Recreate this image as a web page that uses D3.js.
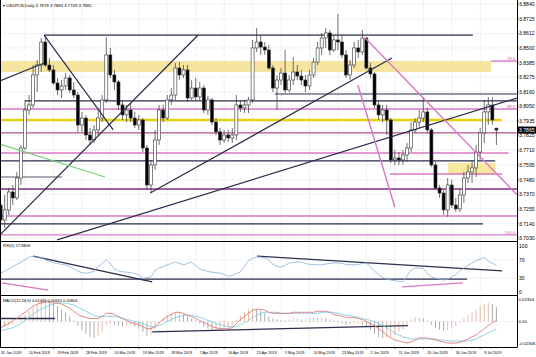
<!DOCTYPE html>
<html><head><meta charset="utf-8">
<script src="https://cdn.jsdelivr.net/npm/d3@7"></script>
<style>body{margin:0;background:#fff}svg{display:block;font-family:"Liberation Sans",Arial,sans-serif}</style>
</head><body><svg id="c" width="536" height="357"></svg>
<script>
// ---------- DATA ----------
const symbolTitle = "USDPLN,Daily  3.7879 3.7884 3.7749 3.7865";
const rsiTitle = "RSI(5) 57.8808";
const macdTitle = "MACD(12,26,9) 0.01469 0.00665 0.00804";

const opens = [3.7285,3.7169,3.7247,3.7386,3.7340,3.7494,3.7726,3.8020,3.8059,3.8291,
3.8368,3.8546,3.8368,3.8330,3.8229,3.8175,3.8206,3.8268,3.8175,3.8136,
3.7904,3.7958,3.7827,3.7788,3.7866,3.7958,3.8098,3.8446,3.8291,3.8237,
3.8059,3.7982,3.8020,3.7958,3.7904,3.7943,3.7726,3.7440,3.7595,3.7788,
3.8020,3.7958,3.8098,3.8136,3.8345,3.8291,3.8330,3.8113,3.8190,3.8121,
3.8190,3.8020,3.8098,3.7927,3.7851,3.7788,3.7827,3.7804,3.7827,3.8059,
3.8036,3.8059,3.8098,3.8500,3.8546,3.8507,3.8484,3.8345,3.8190,3.8252,
3.8306,3.8175,3.8252,3.8314,3.8283,3.8252,3.8206,3.8291,3.8391,3.8500,
3.8577,3.8616,3.8484,3.8562,3.8546,3.8446,3.8291,3.8368,3.8500,3.8469,
3.8577,3.8345,3.8299,3.8059,3.7982,3.8020,3.7943,3.7634,3.7649,3.7634,
3.7672,3.7726,3.7866,3.7927,3.7958,3.8005,3.7866,3.7595,3.7417,3.7378,
3.7247,3.7440,3.7285,3.7255,3.7363,3.7494,3.7541,3.7572,3.7695,3.7843,
3.8005,3.8059,3.7879];
const highs = [3.7324,3.7363,3.7417,3.7440,3.7541,3.7750,3.8098,3.8136,3.8368,3.8407,
3.8577,3.8600,3.8422,3.8368,3.8268,3.8252,3.8306,3.8291,3.8237,3.8159,
3.8005,3.7982,3.7881,3.7904,3.8020,3.8136,3.8585,3.8500,3.8330,3.8252,
3.8098,3.8059,3.8075,3.8005,3.7982,3.7958,3.7750,3.7634,3.7866,3.8059,
3.8059,3.8136,3.8190,3.8384,3.8391,3.8368,3.8368,3.8252,3.8268,3.8237,
3.8214,3.8129,3.8113,3.7958,3.7881,3.7866,3.7866,3.7881,3.8136,3.8098,
3.8098,3.8121,3.8562,3.8654,3.8600,3.8546,3.8523,3.8368,3.8291,3.8345,
3.8484,3.8291,3.8430,3.8368,3.8330,3.8291,3.8330,3.8422,3.8546,3.8616,
3.8654,3.8639,3.8600,3.8763,3.8600,3.8484,3.8407,3.8546,3.8562,3.8639,
3.8585,3.8384,3.8314,3.8098,3.8059,3.8059,3.7958,3.7711,3.7695,3.7711,
3.7765,3.7927,3.7958,3.8020,3.8121,3.8036,3.7881,3.7618,3.7440,3.7402,
3.7494,3.7479,3.7340,3.7402,3.7541,3.7595,3.7634,3.7750,3.7881,3.8098,
3.8121,3.8121,3.7884];
const lows = [3.7131,3.7108,3.7208,3.7285,3.7324,3.7440,3.7711,3.7982,3.8036,3.8159,
3.8314,3.8353,3.8314,3.8214,3.8136,3.8113,3.8175,3.8152,3.8113,3.7851,
3.7851,3.7788,3.7750,3.7765,3.7827,3.7927,3.8075,3.8268,3.8175,3.8020,
3.7943,3.7927,3.7927,3.7881,3.7866,3.7695,3.7402,3.7378,3.7556,3.7750,
3.7927,3.7943,3.8059,3.8098,3.8252,3.8268,3.8082,3.8098,3.8098,3.8098,
3.7997,3.7982,3.7904,3.7827,3.7750,3.7765,3.7773,3.7765,3.7788,3.8005,
3.7997,3.7997,3.8075,3.8469,3.8446,3.8446,3.8330,3.8159,3.8020,3.8214,
3.8152,3.8159,3.8214,3.8252,3.8214,3.8159,3.8175,3.8268,3.8368,3.8446,
3.8500,3.8446,3.8469,3.8484,3.8422,3.8268,3.8252,3.8345,3.8422,3.8446,
3.8330,3.8268,3.8036,3.7943,3.7927,3.7827,3.7610,3.7595,3.7595,3.7595,
3.7618,3.7695,3.7843,3.7881,3.7927,3.7843,3.7579,3.7402,3.7340,3.7208,
3.7193,3.7262,3.7231,3.7231,3.7301,3.7456,3.7456,3.7502,3.7634,3.7765,
3.7904,3.7904,3.7749];
const closes = [3.7169,3.7247,3.7386,3.7340,3.7494,3.7726,3.8020,3.8059,3.8291,3.8368,
3.8546,3.8368,3.8330,3.8229,3.8175,3.8206,3.8268,3.8175,3.8136,3.7904,
3.7958,3.7827,3.7788,3.7866,3.7958,3.8098,3.8446,3.8291,3.8237,3.8059,
3.7982,3.8020,3.7958,3.7904,3.7943,3.7726,3.7440,3.7595,3.7788,3.8020,
3.7958,3.8098,3.8136,3.8345,3.8291,3.8330,3.8113,3.8190,3.8121,3.8190,
3.8020,3.8098,3.7927,3.7851,3.7788,3.7827,3.7804,3.7827,3.8059,3.8036,
3.8059,3.8098,3.8500,3.8546,3.8507,3.8484,3.8345,3.8190,3.8252,3.8306,
3.8175,3.8252,3.8314,3.8283,3.8252,3.8206,3.8291,3.8391,3.8500,3.8577,
3.8616,3.8484,3.8562,3.8546,3.8446,3.8291,3.8368,3.8500,3.8469,3.8577,
3.8345,3.8299,3.8059,3.7982,3.8020,3.7943,3.7634,3.7649,3.7634,3.7672,
3.7726,3.7866,3.7927,3.7958,3.8005,3.7866,3.7595,3.7417,3.7378,3.7247,
3.7440,3.7285,3.7255,3.7363,3.7494,3.7541,3.7572,3.7695,3.7843,3.8005,
3.8059,3.7943,3.7865];

const rsiValues = [41,45,50,55,60,65,70,76,77,76,
75,70,67,64,62,60,59,55,50,45,
42,41,42,45,55,62,70,62,50,46,
44,43,42,40,37,30,31,33,47,52,
55,59,62,65,62,59,62,65,57,50,
47,45,43,42,41,38,34,36,40,44,
55,68,73,76,76,74,70,60,56,54,
58,63,64,65,65,62,60,60,59,59,
61,62,63,63,62,60,59,59,60,62,
63,55,45,38,32,28,26,25,23,22,
35,48,52,52,52,40,33,30,28,26,
28,33,38,46,52,58,63,68,72,75,
67,63,58];

// MACD values in pips (1 pip = 0.0001)
const macdMain = [-65,-43,-22,11,32,65,97,129,161,183,
194,204,204,194,194,183,161,140,108,75,
54,43,32,32,32,54,86,86,75,54,
32,11,-11,-22,-32,-54,-75,-75,-54,-11,
22,54,75,97,97,86,65,54,32,11,
-11,-32,-54,-65,-75,-75,-75,-65,-22,22,
54,86,118,129,129,118,97,86,86,86,
86,86,97,97,97,97,97,97,108,108,
108,97,75,65,54,43,43,43,32,22,
0,-22,-43,-75,-108,-140,-172,-194,-204,-215,
-226,-215,-194,-172,-172,-172,-183,-194,-204,-215,
-226,-226,-226,-215,-204,-183,-161,-140,-108,-75,
-43,-11,11];
const macdSignal = [-97,-86,-75,-65,-43,-22,11,43,75,108,
129,151,172,183,194,194,194,183,172,151,
129,108,86,65,54,54,54,54,54,43,
32,22,11,0,-11,-22,-43,-54,-54,-43,
-22,0,22,43,54,65,65,65,54,43,
32,11,0,-22,-32,-43,-54,-54,-54,-32,
-11,11,43,65,86,97,97,97,97,86,
86,86,86,86,86,86,86,86,86,97,
97,97,97,86,75,65,65,54,43,32,
22,11,0,-22,-43,-65,-97,-118,-140,-161,
-172,-183,-183,-183,-183,-183,-183,-183,-194,-194,
-204,-204,-204,-204,-204,-204,-194,-183,-161,-140,
-118,-97,-75];
const macdHist = [-43,-54,-43,-32,-11,22,65,108,151,183,
215,226,215,194,161,129,97,54,11,-43,
-86,-129,-161,-172,-151,-108,-32,-22,-32,-43,
-54,-43,-32,-54,-75,-108,-151,-140,-86,-22,
32,65,86,97,97,75,54,32,11,-22,
-54,-75,-97,-97,-86,-75,-65,-43,22,65,
97,129,140,129,118,86,54,32,22,22,
11,22,32,32,22,22,32,43,43,43,
32,22,11,-11,-22,-32,-32,-22,-22,-32,
-54,-86,-129,-161,-172,-172,-161,-140,-108,-86,
-43,22,43,43,32,11,-32,-65,-86,-97,
-86,-65,-43,-11,32,65,97,129,161,183,
194,183,151];

const priceTicks = [3.8840,3.8725,3.8612,3.8500,3.8385,3.8275,3.8160,3.8050,3.7935,3.7825,3.7710,3.7595,3.7480,3.7370,3.7255,3.7140,3.7030];
const rsiTicks = [100,70,30,0];
const macdTicks = [236.4,0,-230.6];
const macdTickLabels = ["0.02364","0.00","-0.02306"];
const dateLabels = ["31 Jan 2019","10 Feb 2019","19 Feb 2019","28 Feb 2019","10 Mar 2019","19 Mar 2019","28 Mar 2019","7 Apr 2019","16 Apr 2019","25 Apr 2019","5 May 2019","14 May 2019","23 May 2019","2 Jun 2019","11 Jun 2019","20 Jun 2019","30 Jun 2019","9 Jul 2019"];
const dateBarIndex = [0,7,14,21,28,35,42,49,56,63,70,77,84,91,98,105,112,119];

// horizontal levels: [price, fromBar, toBar, kind]
const levels = [
 [3.8600,11.7,117.2,"dark"],[3.8144,68.5,128,"dark"],[3.8090,7,128,"dark"],
 [3.8028,0,128,"pink"],[3.8399,121.7,128,"pink"],[3.7943,0,124.3,"yellow"],
 [3.7843,0,128,"mauve"],[3.7688,0,126,"pink"],[3.7626,0,122.7,"dark"],
 [3.7525,96.8,124.4,"pink"],[3.7502,0,16.1,"grey"],[3.7409,0,128,"purple"],
 [3.7200,0,128,"pink"],[3.7139,0,119.7,"dark"],[3.7054,0,128,"pink"]
];
// zones: [priceTop, priceBottom, fromBar, toBar]
const zones = [[3.8399,3.8314,0,121.7],[3.7610,3.7518,111.1,122.7]];
// trend lines: [bar1, price1, bar2, price2, kind]
const trends = [
 [11.7,3.8600,28.7,3.7866,"dark"],[0.85,3.8245,11.7,3.8384,"dark"],
 [0.85,3.7054,49.6,3.8600,"dark"],[37.8,3.7378,97.3,3.8422,"dark"],
 [14.9,3.7015,128.1,3.8113,"dark"],[90.7,3.8577,128.1,3.7363,"pink"],
 [88.9,3.8214,98.0,3.7270,"pink"],[0.85,3.7757,26.7,3.7502,"green"]
];
const fibLabels = [["78.6",3.8399],["38.2",3.8028],["100.0",3.7054]];
// RSI lines: [bar1, v1, bar2, v2, kind]
const rsiTrends = [[9.0,78,38.3,22,"dark"],[0,28,115.8,28,"dark"],[64.1,78,124.4,46,"dark"],[1.3,20,12.7,4,"pink"],[99.8,11,114.8,20,"pink"]];
// MACD lines (pips)
const macdTrends = [[0,32,14.4,32,"dark"],[38.3,-108,101.2,-43,"dark"]];

// ---------- DRAW ----------
const svg = d3.select("#c");
const PR = 517;
const x = d3.scaleLinear().domain([0,128]).range([-3.45,516.75]);
const yP = d3.scaleLinear().domain([3.7030,3.8840]).range([238,4]);
const yR = d3.scaleLinear().domain([0,100]).range([292,246]);
const yM = d3.scaleLinear().domain([-230.6,236.4]).range([343.5,299]);
const panes = [[0,241],[241,295],[295,347]];
const colors = {dark:"#2b2d4c",pink:"#d977c6",mauve:"#b0508f",purple:"#7e2f7e",grey:"#55586a",yellow:"#e6d210",green:"#74d374"};
const widths = {dark:1.2,pink:1.4,mauve:1.4,purple:1.4,grey:1.1,yellow:2.6,green:1.2};

const defs = svg.append("defs");
panes.forEach((p,k)=>defs.append("clipPath").attr("id","cp"+k).append("rect").attr("x",0).attr("y",p[0]).attr("width",PR).attr("height",p[1]-p[0]));

// grid
const grid = svg.append("g").attr("stroke","#c9c9c9").attr("stroke-width",0.6).attr("stroke-dasharray","1,1.5");
dateBarIndex.forEach(i=>grid.append("line").attr("x1",x(i)).attr("x2",x(i)).attr("y1",0).attr("y2",347));
priceTicks.forEach(t=>grid.append("line").attr("x1",0).attr("x2",PR).attr("y1",yP(t)).attr("y2",yP(t)));
[70,30].forEach(t=>grid.append("line").attr("x1",0).attr("x2",PR).attr("y1",yR(t)).attr("y2",yR(t)));
grid.append("line").attr("x1",0).attr("x2",PR).attr("y1",yM(0)).attr("y2",yM(0));

// main pane
const gm = svg.append("g").attr("clip-path","url(#cp0)");
zones.forEach((z,k)=>gm.append("rect").attr("x",x(z[2])).attr("width",x(z[3])-x(z[2]))
  .attr("y",yP(z[0])).attr("height",yP(z[1])-yP(z[0])).attr("fill",k===0?"#f6e49c":"#f7e69a").attr("opacity",0.95));
levels.forEach(l=>gm.append("line").attr("x1",x(l[1])).attr("x2",x(l[2])).attr("y1",yP(l[0])).attr("y2",yP(l[0]))
  .attr("stroke",colors[l[3]]).attr("stroke-width",widths[l[3]]));

const bars = d3.range(opens.length).map(k=>({i:k+1,o:opens[k],h:highs[k],l:lows[k],c:closes[k]}));
const cg = gm.append("g");
cg.selectAll("line.w").data(bars).join("line").attr("class","w")
  .attr("x1",d=>x(d.i)).attr("x2",d=>x(d.i)).attr("y1",d=>yP(d.h)).attr("y2",d=>yP(d.l))
  .attr("stroke","#333").attr("stroke-width",0.7);
cg.selectAll("rect.b").data(bars).join("rect").attr("class","b")
  .attr("x",d=>x(d.i)-1.5).attr("width",3)
  .attr("y",d=>yP(Math.max(d.o,d.c))).attr("height",d=>Math.max(0.8,Math.abs(yP(d.o)-yP(d.c))))
  .attr("fill",d=>d.c>=d.o?"#fff":"#000").attr("stroke","#333").attr("stroke-width",0.6);

trends.forEach(t=>gm.append("line").attr("x1",x(t[0])).attr("y1",yP(t[1])).attr("x2",x(t[2])).attr("y2",yP(t[3]))
  .attr("stroke",colors[t[4]]).attr("stroke-width",widths[t[4]]));

fibLabels.forEach(f=>svg.append("text").attr("x",515).attr("y",yP(f[1])-1).attr("text-anchor","end")
  .attr("font-size",4.2).attr("fill","#d060b0").text(f[0]));

svg.append("text").attr("x",3).attr("y",7).attr("font-size",4.3).attr("fill","#000").text("\u25BE "+symbolTitle);

// RSI pane
const gr = svg.append("g").attr("clip-path","url(#cp1)");
rsiTrends.forEach(t=>gr.append("line").attr("x1",x(t[0])).attr("y1",yR(t[1])).attr("x2",x(t[2])).attr("y2",yR(t[3]))
  .attr("stroke",colors[t[4]]).attr("stroke-width",1.3));
gr.append("path").datum(rsiValues).attr("fill","none").attr("stroke","#86b3dc").attr("stroke-width",0.8)
  .attr("d",d3.line().x((d,k)=>x(k+1)).y(d=>yR(d)));
svg.append("text").attr("x",3).attr("y",247).attr("font-size",4).text(rsiTitle);

// MACD pane
const gM = svg.append("g").attr("clip-path","url(#cp2)");
gM.selectAll("line.h").data(macdHist).join("line").attr("class","h")
  .attr("x1",(d,k)=>x(k+1)).attr("x2",(d,k)=>x(k+1)).attr("y1",yM(0)).attr("y2",d=>yM(d))
  .attr("stroke",(d,k)=>k>0&&d>=macdHist[k-1]?"#e0b49c":"#a0a0a0").attr("stroke-width",0.9);
macdTrends.forEach(t=>gM.append("line").attr("x1",x(t[0])).attr("y1",yM(t[1])).attr("x2",x(t[2])).attr("y2",yM(t[3]))
  .attr("stroke",colors[t[4]]).attr("stroke-width",1.3));
gM.append("path").datum(macdSignal).attr("fill","none").attr("stroke","#7fcfe6").attr("stroke-width",0.9)
  .attr("d",d3.line().x((d,k)=>x(k+1)).y(d=>yM(d)));
gM.append("path").datum(macdMain).attr("fill","none").attr("stroke","#e07a78").attr("stroke-width",0.9)
  .attr("d",d3.line().x((d,k)=>x(k+1)).y(d=>yM(d)));
svg.append("text").attr("x",3).attr("y",302).attr("font-size",4).text(macdTitle);

// frames
const fr = svg.append("g").attr("stroke","#000").attr("stroke-width",1);
fr.append("line").attr("x1",PR+0.5).attr("x2",PR+0.5).attr("y1",0).attr("y2",347);
[241,295,347].forEach(y=>fr.append("line").attr("x1",0).attr("x2",PR+0.5).attr("y1",y+0.5).attr("y2",y+0.5));
fr.append("line").attr("x1",0.5).attr("x2",0.5).attr("y1",0).attr("y2",347);

// right axis labels
const ax = svg.append("g").attr("font-size",5.1).attr("fill","#000");
priceTicks.forEach(t=>{
  ax.append("line").attr("x1",PR).attr("x2",PR+2).attr("y1",yP(t)).attr("y2",yP(t)).attr("stroke","#000").attr("stroke-width",0.6);
  ax.append("text").attr("x",519).attr("y",yP(t)+1.8).text(d3.format(".4f")(t));
});
const last = closes[closes.length-1];
ax.append("rect").attr("x",517).attr("y",yP(last)-3.5).attr("width",19).attr("height",7).attr("fill","#000");
ax.append("text").attr("x",519).attr("y",yP(last)+1.8).attr("fill","#fff").text(d3.format(".4f")(last));
rsiTicks.forEach(t=>ax.append("text").attr("x",519).attr("y",yR(t)+1.8).text(t));
macdTicks.forEach((t,k)=>ax.append("text").attr("x",518.5).attr("y",yM(t)+1.6).attr("font-size",4.3).text(macdTickLabels[k]));

// date labels
const dx = svg.append("g").attr("font-size",3.7).attr("fill","#000");
dateLabels.forEach((s,k)=>{
  const xx = x(dateBarIndex[k]);
  dx.append("line").attr("x1",xx).attr("x2",xx).attr("y1",347).attr("y2",349).attr("stroke","#000").attr("stroke-width",0.5);
  dx.append("text").attr("x",Math.max(1,xx+4)).attr("y",354).text(s);
});
</script></body></html>
